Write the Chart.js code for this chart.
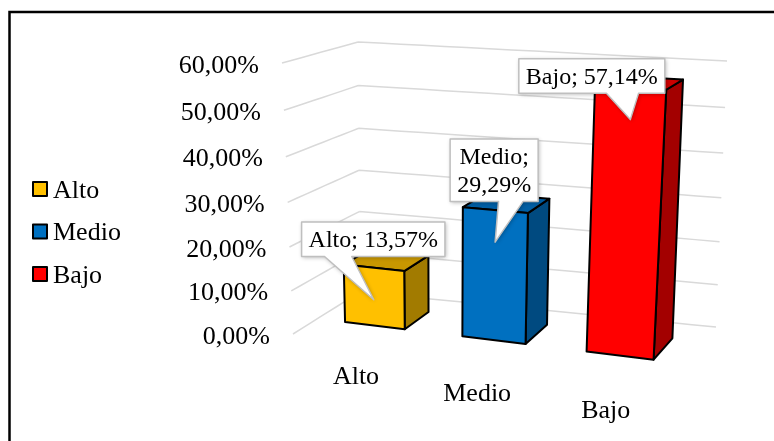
<!DOCTYPE html>
<html>
<head>
<meta charset="utf-8">
<script src="https://cdn.jsdelivr.net/npm/chart.js"></script>
<style>
  body { margin: 0; background: #fff; }
  #wrap { width: 774px; height: 441px; }
</style>
</head>
<body>
<div id="wrap"><canvas id="nivelChart" width="774" height="441"></canvas></div>

<script>
  // Niveles y porcentajes
  const categorias = ['Alto', 'Medio', 'Bajo'];
  const porcentajes = [0.1357, 0.2929, 0.5714];
  const marcasEje = [0, 0.1, 0.2, 0.3, 0.4, 0.5, 0.6];

  // Colores: frente, tapa y lateral de cada columna
  const colores = ['#FFC000', '#0070C0', '#FF0000'];
  const coloresTapa = ['#C89700', '#005EA3', '#CC0000'];
  const coloresLado = ['#A27B00', '#004A80', '#A30000'];

  // Vista 3D: esquinas de la caja [u][v][d] en pixeles y pesos de perspectiva
  const vista = {
    esquinas: [
      [[[293, 334], [360, 292]], [[282, 63], [358, 42]]],
      [[[668, 385], [716, 327]], [[686, 87], [727, 61]]]
    ],
    pesoU: 0.085, pesoV: 0.055, pesoD: 0.08,
    frente: 0.35, fondo: 0.73
  };

  // Globos de etiqueta: desplazamiento de la caja respecto a la punta
  const globos = [
    { dx: -0.5, dy: -60.5, base: [0.16, 0.35], partir: false },
    { dx: -1, dy: -72, base: [0.55, 0.83], partir: true },
    { dx: -38.5, dy: -43.5, base: [0.60, 0.82], partir: false }
  ];

  const FUENTE = '"Liberation Serif", "Times New Roman", serif';
  const fmtPct = v => (v * 100).toFixed(2).replace('.', ',') + '%';

  function proyectar(u, v, d) {
    const c = vista.esquinas;
    let nx = 0, ny = 0, nw = 0;
    for (let i = 0; i < 2; i++) {
      for (let j = 0; j < 2; j++) {
        for (let k = 0; k < 2; k++) {
          const b = (i ? u : 1 - u) * (j ? v : 1 - v) * (k ? d : 1 - d);
          const w = b * (1 + vista.pesoD * k - vista.pesoU * i - vista.pesoV * j);
          nx += w * c[i][j][k][0];
          ny += w * c[i][j][k][1];
          nw += w;
        }
      }
    }
    return [nx / nw, ny / nw];
  }

  function poligono(ctx, pts, relleno) {
    ctx.beginPath();
    pts.forEach((p, i) => i ? ctx.lineTo(p[0], p[1]) : ctx.moveTo(p[0], p[1]));
    ctx.closePath();
    ctx.fillStyle = relleno;
    ctx.fill();
    ctx.stroke();
  }

  function linea3d(ctx, a, b, pasos) {
    for (let s = 0; s <= pasos; s++) {
      const t = s / pasos;
      const p = proyectar(a[0] + (b[0] - a[0]) * t, a[1] + (b[1] - a[1]) * t, a[2] + (b[2] - a[2]) * t);
      s ? ctx.lineTo(p[0], p[1]) : ctx.moveTo(p[0], p[1]);
    }
  }

  const columnas3d = {
    id: 'columnas3d',
    beforeDatasetsDraw() {
      return false;
    },
    afterDraw(chart) {
      const ctx = chart.ctx;
      const area = chart.chartArea;
      const escalaY = chart.scales.y;
      const meta = chart.getDatasetMeta(0);
      const vDe = px => (area.bottom - px) / area.height;
      const uDe = px => (px - area.left) / area.width;

      ctx.save();

      // Marco exterior
      ctx.strokeStyle = '#000';
      ctx.lineWidth = 2.5;
      ctx.strokeRect(9.5, 12, 800, 500);

      // Líneas de división en pared izquierda y fondo
      ctx.strokeStyle = '#d9d9d9';
      ctx.lineWidth = 1.5;
      escalaY.ticks.forEach(t => {
        const v = vDe(escalaY.getPixelForValue(t.value));
        ctx.beginPath();
        linea3d(ctx, [0, v, 0], [0, v, 1], 8);
        linea3d(ctx, [0, v, 1], [1, v, 1], 16);
        ctx.stroke();
      });

      // Etiquetas del eje vertical
      ctx.fillStyle = '#000';
      ctx.font = '26px ' + FUENTE;
      ctx.textAlign = 'right';
      ctx.textBaseline = 'alphabetic';
      escalaY.ticks.forEach(t => {
        const v = vDe(escalaY.getPixelForValue(t.value));
        const p = proyectar(0, v, 0);
        ctx.fillText(fmtPct(t.value), p[0] - 23, p[1] + 9.5);
      });

      // Columnas
      ctx.strokeStyle = '#000';
      ctx.lineWidth = 2;
      ctx.lineJoin = 'round';
      const df = vista.frente, db = vista.fondo;
      meta.data.forEach((el, i) => {
        const u0 = uDe(el.x - el.width / 2);
        const u1 = uDe(el.x + el.width / 2);
        const v = vDe(el.y);
        poligono(ctx, [proyectar(u1, 0, df), proyectar(u1, 0, db), proyectar(u1, v, db), proyectar(u1, v, df)], coloresLado[i]);
        poligono(ctx, [proyectar(u0, v, df), proyectar(u1, v, df), proyectar(u1, v, db), proyectar(u0, v, db)], coloresTapa[i]);
        poligono(ctx, [proyectar(u0, 0, df), proyectar(u1, 0, df), proyectar(u1, v, df), proyectar(u0, v, df)], colores[i]);
      });

      // Etiquetas de categoría en el borde del piso
      ctx.fillStyle = '#000';
      ctx.font = '26px ' + FUENTE;
      ctx.textAlign = 'center';
      meta.data.forEach((el, i) => {
        const p = proyectar(uDe(el.x), 0, 0);
        ctx.fillText(chart.data.labels[i], p[0] + 5, p[1] + 42.5);
      });

      // Globos con nombre y valor
      ctx.font = '24px ' + FUENTE;
      const dataset = chart.data.datasets[0];
      meta.data.forEach((el, i) => {
        const g = globos[i];
        const top = proyectar(uDe(el.x), vDe(el.y), df);
        const punta = [top[0], top[1] + 32];
        const nombre = chart.data.labels[i] + ';';
        const valor = fmtPct(dataset.data[i]);
        const lineas = g.partir ? [nombre, valor] : [nombre + ' ' + valor];
        const ancho = Math.max(...lineas.map(l => ctx.measureText(l).width)) + 14;
        const alto = lineas.length * 28 + 6.5;
        const cx = punta[0] + g.dx, cy = punta[1] + g.dy;
        const x0 = cx - ancho / 2, y0 = cy - alto / 2, x1 = x0 + ancho, y1 = y0 + alto;
        const b0 = x0 + g.base[0] * ancho, b1 = x0 + g.base[1] * ancho;
        const forma = () => {
          ctx.beginPath();
          ctx.moveTo(x0, y0);
          ctx.lineTo(x1, y0);
          ctx.lineTo(x1, y1);
          ctx.lineTo(b1, y1);
          ctx.lineTo(punta[0], punta[1]);
          ctx.lineTo(b0, y1);
          ctx.lineTo(x0, y1);
          ctx.closePath();
        };
        ctx.save();
        ctx.shadowColor = 'rgba(0,0,0,0.3)';
        ctx.shadowBlur = 4;
        ctx.shadowOffsetX = 1;
        ctx.shadowOffsetY = 1;
        forma();
        ctx.fillStyle = '#fff';
        ctx.fill();
        ctx.restore();
        forma();
        ctx.strokeStyle = '#bfbfbf';
        ctx.lineWidth = 1.5;
        ctx.stroke();
        ctx.fillStyle = '#000';
        ctx.textAlign = 'center';
        lineas.forEach((l, k) => ctx.fillText(l, cx, y0 + 25.5 + k * 28));
      });

      // Leyenda
      ctx.font = '26px ' + FUENTE;
      ctx.textAlign = 'left';
      ctx.lineWidth = 2;
      ctx.strokeStyle = '#000';
      chart.data.labels.forEach((lab, i) => {
        const yc = 189 + i * 42.5;
        ctx.fillStyle = colores[i];
        ctx.fillRect(33, yc - 7, 14, 14);
        ctx.strokeRect(33, yc - 7, 14, 14);
        ctx.fillStyle = '#000';
        ctx.fillText(lab, 53, yc + 8.5);
      });

      ctx.restore();
    }
  };

  new Chart(document.getElementById('nivelChart'), {
    type: 'bar',
    data: {
      labels: categorias,
      datasets: [{
        data: porcentajes,
        backgroundColor: colores,
        barPercentage: 0.516,
        categoryPercentage: 1
      }]
    },
    options: {
      responsive: false,
      animation: false,
      events: [],
      layout: { padding: 0 },
      plugins: { legend: { display: false }, tooltip: { enabled: false } },
      scales: {
        x: { display: false },
        y: {
          display: false,
          min: 0,
          max: 0.6,
          afterBuildTicks: s => { s.ticks = marcasEje.map(v => ({ value: v })); }
        }
      }
    },
    plugins: [columnas3d]
  });
</script>
</body>
</html>
